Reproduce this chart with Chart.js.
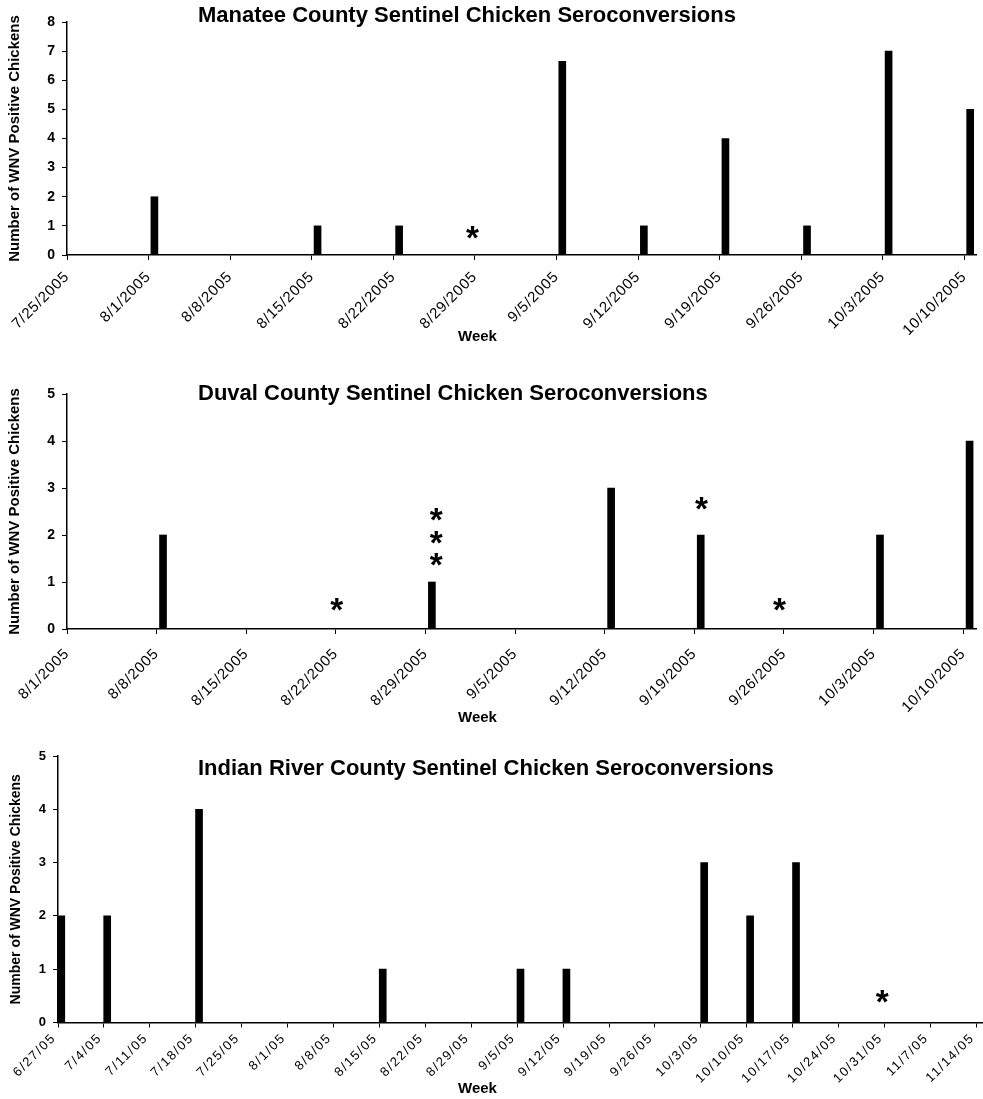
<!DOCTYPE html>
<html><head><meta charset="utf-8">
<script src="https://cdn.jsdelivr.net/npm/chart.js@4.4.0/dist/chart.umd.min.js"></script>
<style>
html,body{margin:0;padding:0;background:#fff;}
body{width:983px;height:1099px;position:relative;overflow:hidden;}
canvas{position:absolute;left:0;}
</style></head><body>
<canvas id="c1" width="983" height="350" style="top:0px;width:983px;height:350px"></canvas>
<canvas id="c2" width="983" height="385" style="top:350px;width:983px;height:385px"></canvas>
<canvas id="c3" width="983" height="369" style="top:730px;width:983px;height:369px"></canvas>
<script>
// ---------- data ----------
const manateeWeeks = ['7/25/2005','8/1/2005','8/8/2005','8/15/2005','8/22/2005','8/29/2005','9/5/2005','9/12/2005','9/19/2005','9/26/2005','10/3/2005','10/10/2005'];
const manateeValues = [0, 2, 0, 1, 1, 0, 6.65, 1, 4, 1, 7, 5];
const manateeStarWeek = [4.97];
const manateeStarLevel = [0.77];

const duvalWeeks = ['8/1/2005','8/8/2005','8/15/2005','8/22/2005','8/29/2005','9/5/2005','9/12/2005','9/19/2005','9/26/2005','10/3/2005','10/10/2005'];
const duvalValues = [0, 2, 0, 0, 1, 0, 3, 2, 0, 2, 4];
const duvalStarWeek = [3.01, 4.12, 4.12, 4.12, 7.08, 7.95];
const duvalStarLevel = [0.52, 1.47, 1.94, 2.43, 2.66, 0.53];

const indianWeeks = ['6/27/05','7/4/05','7/11/05','7/18/05','7/25/05','8/1/05','8/8/05','8/15/05','8/22/05','8/29/05','9/5/05','9/12/05','9/19/05','9/26/05','10/3/05','10/10/05','10/17/05','10/24/05','10/31/05','11/7/05','11/14/05'];
const indianValues = [2, 2, 0, 4, 0, 0, 0, 1, 0, 0, 1, 1, 0, 0, 3, 2, 3, 0, 0, 0, 0];
const indianStarWeek = [17.95];
const indianStarLevel = [0.49];

const yAxisTitle = 'Number of WNV Positive Chickens';
const xAxisTitle = 'Week';

// ---------- setup ----------
Chart.defaults.font.family = '"Liberation Sans", Arial, sans-serif';
Chart.defaults.color = '#000';
const DAY = 1 / 7;

const placeText = {
  id: 'placeText',
  afterLayout(chart, args, o) {
    const fix = (blk, pos) => {
      if (!blk || !pos) return;
      const off = blk.options.font.size / 2;
      blk.left = pos.x; blk.right = chart.width;
      blk.top = pos.y - off; blk.bottom = blk.top + blk.height;
    };
    fix(chart.titleBlock, o.title);
    const sub = chart.boxes.find(b => b !== chart.titleBlock && b.options && b.options.text === xAxisTitle);
    fix(sub, o.subtitle);
  }
};

const spacing = {
  id: 'spacing',
  afterLayout(chart, args, o) {
    const sc = chart.scales.x;
    if (!sc || sc._spPatched) return;
    const orig = sc.drawLabels;
    sc.drawLabels = function (area) {
      const c = this.ctx;
      c.letterSpacing = o.px + 'px';
      orig.call(this, area);
      c.letterSpacing = '0px';
    };
    sc._spPatched = true;
  }
};

const stars = {
  id: 'stars',
  afterDatasetsDraw(chart, args, o) {
    const ctx = chart.ctx, xs = chart.scales.x, ys = chart.scales.y;
    ctx.save();
    ctx.font = 'bold 100px "Liberation Sans"';
    const m = ctx.measureText('*');
    const size = 100 * o.width / (m.actualBoundingBoxRight + m.actualBoundingBoxLeft);
    ctx.font = 'bold ' + size + 'px "Liberation Sans"';
    const mm = ctx.measureText('*');
    ctx.fillStyle = '#000'; ctx.textAlign = 'left'; ctx.textBaseline = 'alphabetic';
    o.weeks.forEach((wk, i) => {
      const px = xs.getPixelForValue(wk), py = ys.getPixelForValue(o.levels[i]);
      ctx.fillText('*', px + (mm.actualBoundingBoxLeft - mm.actualBoundingBoxRight) / 2,
                        py + (mm.actualBoundingBoxAscent - mm.actualBoundingBoxDescent) / 2);
    });
    ctx.restore();
  }
};

function makeChart(id, s) {
  const n = s.weeks.length;
  return new Chart(document.getElementById(id), {
    type: 'bar',
    data: {
      datasets: [{
        label: s.title,
        data: s.weeks.map((w, i) => ({ x: i, y: s.values[i] })),
        xAxisID: 'xb', yAxisID: 'y',
        backgroundColor: '#000', borderWidth: 0, barThickness: 7
      }]
    },
    options: {
      responsive: false, animation: false, devicePixelRatio: 1,
      layout: { padding: s.pad },
      plugins: {
        legend: { display: false }, tooltip: { enabled: false },
        title: { display: true, text: s.title, align: 'start', color: '#000',
                 font: { size: 22, weight: 'bold', lineHeight: 1 }, padding: 0 },
        subtitle: { display: true, position: 'bottom', text: xAxisTitle, align: 'start', color: '#000',
                    font: { size: 15, weight: 'bold', lineHeight: 1 }, padding: 0 },
        placeText: { title: s.titlePos, subtitle: s.weekPos },
        spacing: { px: s.spacing },
        stars: { weeks: s.starWeek, levels: s.starLevel, width: 13 }
      },
      scales: {
        x: {
          type: 'linear', position: 'bottom', min: 0, max: n - 1 + DAY, offset: false, bounds: 'data',
          afterBuildTicks: sc => { sc.ticks = s.weeks.map((w, i) => ({ value: i })); },
          afterFit: sc => { sc.height = s.xh; sc.paddingLeft = 0; sc.paddingRight = 0; },
          grid: { display: true, drawOnChartArea: false, drawTicks: true, tickLength: 5, color: '#000', offset: false },
          border: { display: true, color: '#000', width: 1.5 },
          ticks: { autoSkip: false, minRotation: 45, maxRotation: 45, padding: s.xpad, labelOffset: s.xlabelOffset,
                   font: { size: s.xfont }, color: '#000', callback: v => s.weeks[v] }
        },
        xb: { type: 'linear', display: false, min: -DAY / 2, max: n - 1 + DAY / 2, offset: false, bounds: 'data', grid: { offset: false } },
        y: {
          type: 'linear', position: 'left', min: 0, max: s.ymax,
          afterFit: sc => { sc.width = s.yw; },
          ticks: { stepSize: 1, padding: 7, font: { size: s.yfont, weight: 'bold' }, color: '#000' },
          grid: { display: true, drawOnChartArea: false, drawTicks: true, tickLength: 5, color: '#000' },
          border: { display: true, color: '#000', width: 1.5 },
          title: { display: true, text: yAxisTitle, color: '#000', font: { size: s.ytfont, weight: 'bold' },
                   padding: { top: s.ytpad, bottom: 0 } }
        }
      }
    },
    plugins: [placeText, spacing, stars]
  });
}

makeChart('c1', {
  title: 'Manatee County Sentinel Chicken Seroconversions',
  weeks: manateeWeeks, values: manateeValues, starWeek: manateeStarWeek, starLevel: manateeStarLevel,
  ymax: 8, yw: 67, yfont: 14, ytfont: 15, ytpad: 6, xfont: 15, xpad: 8, xlabelOffset: 0, xh: 80,
  pad: { left: 0, right: 7, top: 0, bottom: 0 }, titlePos: { x: 198, y: 15.5 }, weekPos: { x: 458, y: 337 }, spacing: 0.8
});
makeChart('c2', {
  title: 'Duval County Sentinel Chicken Seroconversions',
  weeks: duvalWeeks, values: duvalValues, starWeek: duvalStarWeek, starLevel: duvalStarLevel,
  ymax: 5, yw: 67, yfont: 14, ytfont: 15, ytpad: 6, xfont: 15, xpad: 11, xlabelOffset: 0, xh: 91,
  pad: { left: 0, right: 7, top: 22, bottom: 0 }, titlePos: { x: 198, y: 43.5 }, weekPos: { x: 458, y: 368 }, spacing: 0.8
});
makeChart('c3', {
  title: 'Indian River County Sentinel Chicken Seroconversions',
  weeks: indianWeeks, values: indianValues, starWeek: indianStarWeek, starLevel: indianStarLevel,
  ymax: 5, yw: 58, yfont: 13, ytfont: 14, ytpad: 8, xfont: 13, xpad: 3, xlabelOffset: -4, xh: 61.5,
  pad: { left: 0, right: 0, top: 4, bottom: 0 }, titlePos: { x: 198, y: 38.5 }, weekPos: { x: 458, y: 358.5 }, spacing: 1.6
});
</script>
</body></html>
